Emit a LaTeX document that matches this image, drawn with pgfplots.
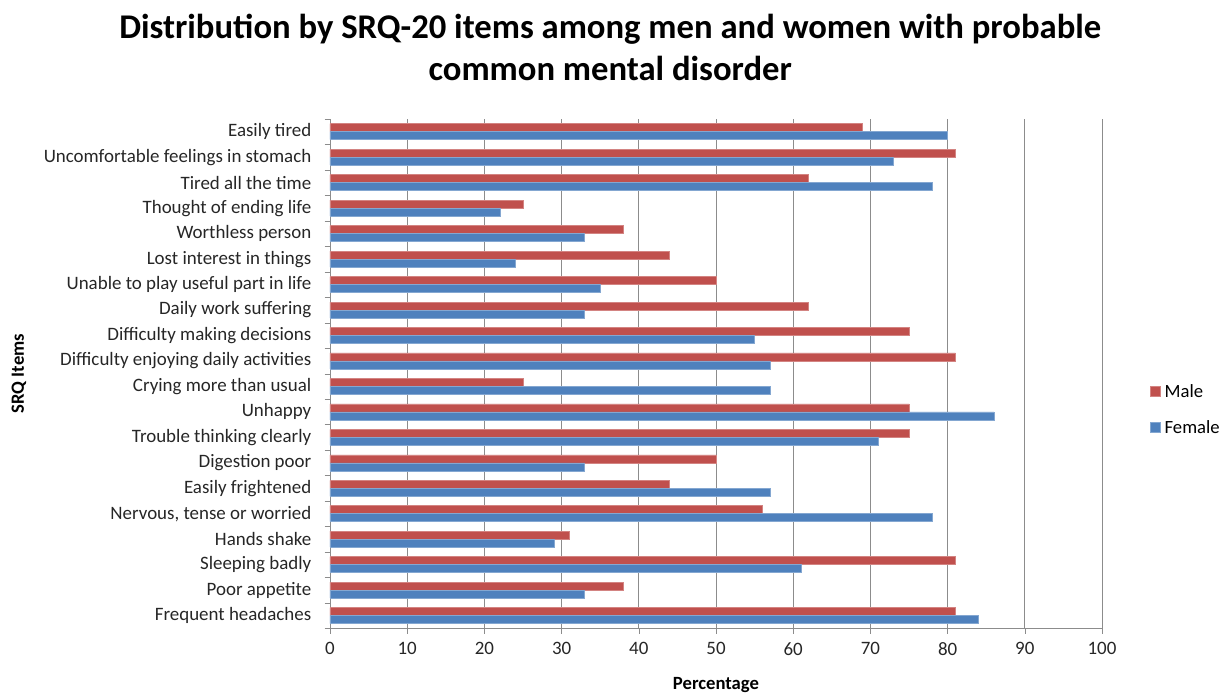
\documentclass[border=0pt]{standalone}
\usepackage{pgfplots}
\pgfplotsset{compat=1.18}
\usepackage{fontspec}
\setmainfont{Carlito}
\definecolor{malered}{HTML}{C0504D}
\definecolor{femblue}{HTML}{4F81BD}
\definecolor{gridgray}{HTML}{8C8C8C}
\begin{document}
\begin{tikzpicture}
\begin{axis}[
  name=main,
  scale only axis,
  width=579pt, height=382pt,
  xbar,
  xmin=0, xmax=100,
  ymin=-0.5, ymax=19.5,
  xtick={0,10,...,100},
  ytick={0,...,19},
  yticklabels={Frequent headaches,Poor appetite,Sleeping badly,Hands shake,{Nervous, tense or worried},Easily frightened,Digestion poor,Trouble thinking clearly,Unhappy,Crying more than usual,Difficulty enjoying daily activities,Difficulty making decisions,Daily work suffering,Unable to play useful part in life,Lost interest in things,Worthless person,Thought of ending life,Tired all the time,Uncomfortable feelings in stomach,Easily tired},
  minor ytick={-0.5,0.5,...,19.5},
  major y tick style={draw=none},
  minor y tick style={draw=gridgray},
  tick align=outside,
  major tick length=4pt,
  minor tick length=4pt,
  xmajorgrids,
  grid style={gridgray, line width=0.6pt},
  axis x line*=bottom,
  axis y line*=left,
  axis line style={gridgray, line width=0.6pt},
  x tick style={gridgray},
  ticklabel style={font=\fontsize{14.2}{16}\selectfont, text=black!85},
  xticklabel style={yshift=-3pt},
  yticklabel style={xshift=-6.5pt},
  /pgf/number format/assume math mode=true,
  xlabel={\textbf{Percentage}},
  ylabel={\textbf{SRQ Items}},
  xlabel style={font=\fontsize{14}{16}\selectfont, at={(0.5,-0.112)}, anchor=center},
  ylabel style={font=\fontsize{14}{16}\selectfont, at={(-0.403,0.5)}, anchor=center},
  bar width=6pt,
  legend style={draw=none, at={(1.062,0.429)}, anchor=west, font=\fontsize{14}{16}\selectfont, row sep=12pt, inner sep=0pt, nodes={inner xsep=3pt}},
  legend cell align=left,
  legend image code/.code={\fill[#1] (0pt,-3.5pt) rectangle (7.5pt,4pt);},
  title={Distribution by SRQ-20 items among men and women with probable\\common mental disorder},
  title style={font=\bfseries\fontsize{26}{31.5}\selectfont, align=center, at={(0.363,1.124)}, anchor=center, inner sep=0pt},
]
\addplot[fill=malered, draw=malered!70!white, bar shift=3pt] coordinates {
(81,0) (38,1) (81,2) (31,3) (56,4) (44,5) (50,6) (75,7) (75,8) (25,9)
(81,10) (75,11) (62,12) (50,13) (44,14) (38,15) (25,16) (62,17) (81,18) (69,19)};
\addlegendentry{Male}
\addplot[fill=femblue, draw=femblue!70!white, bar shift=-3pt] coordinates {
(84,0) (33,1) (61,2) (29,3) (78,4) (57,5) (33,6) (71,7) (86,8) (57,9)
(57,10) (55,11) (33,12) (35,13) (24,14) (33,15) (22,16) (78,17) (73,18) (80,19)};
\addlegendentry{Female}
\end{axis}
\pgfresetboundingbox
\path ([xshift=-247.5pt, yshift=-51pt]main.south west) rectangle ([xshift=96pt, yshift=89.25pt]main.north east);
\end{tikzpicture}
\end{document}
